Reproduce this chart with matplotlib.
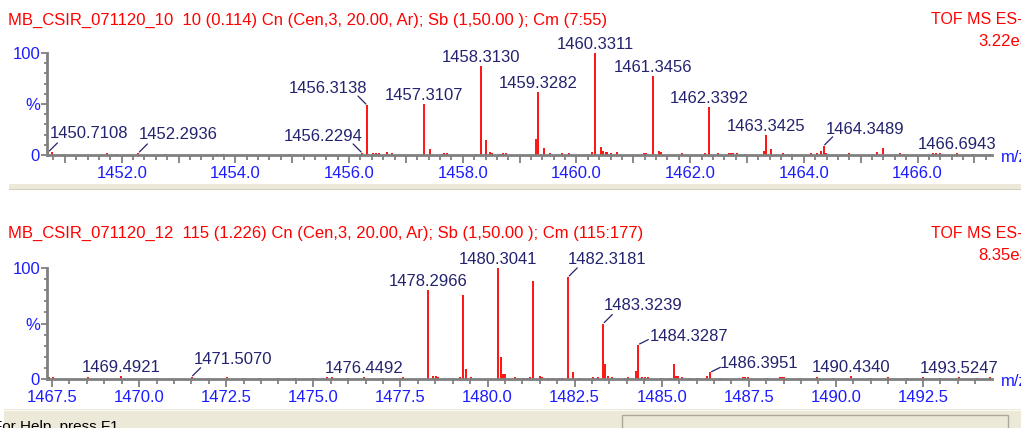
import matplotlib
matplotlib.use("Agg")
import matplotlib.pyplot as plt
from matplotlib.patches import Rectangle
from matplotlib.lines import Line2D
from matplotlib.ticker import MultipleLocator, FixedLocator, FuncFormatter

plt.rcParams['font.family'] = ['Liberation Sans', 'DejaVu Sans']

W, H = 1021, 428

# ---- spectrum 1 : MB_CSIR_071120_10 ----
top_title = "MB_CSIR_071120_10  10 (0.114) Cn (Cen,3, 20.00, Ar); Sb (1,50.00 ); Cm (7:55)"
top_scale = "3.22e3"
top_mz = [1450.7108, 1450.77, 1450.99, 1451.75, 1451.92, 1452.2936, 1452.76, 1453.67,
          1453.78, 1454.96, 1456.2294, 1456.3138, 1456.42, 1456.47, 1456.53, 1456.67,
          1456.75, 1457.3107, 1457.42, 1457.63, 1457.67, 1457.72, 1458.23, 1458.3130,
          1458.40, 1458.48, 1458.51, 1458.65, 1458.71, 1458.76, 1459.28, 1459.3282,
          1459.43, 1459.53, 1459.74, 1459.87, 1460.27, 1460.3311, 1460.43, 1460.47,
          1460.52, 1460.54, 1460.60, 1460.72, 1461.19, 1461.23, 1461.3456, 1461.46,
          1461.49, 1461.85, 1462.27, 1462.3392, 1462.49, 1462.68, 1462.71, 1462.76,
          1462.83, 1462.97, 1463.30, 1463.3425, 1463.42, 1463.64, 1463.73, 1463.80,
          1464.13, 1464.23, 1464.31, 1464.3489, 1464.39, 1464.80, 1465.29, 1465.40,
          1465.70, 1465.77, 1466.28, 1466.32, 1466.40, 1466.6943, 1466.98, 1467.27]
top_int = [3, 3, 1, 2, 1, 2, 1, 1,
           1, 1, 2, 49, 2, 1.5, 1.5, 3,
           2, 50, 6, 1, 2, 1.5, 1, 87,
           15, 3, 2, 1, 1.5, 1.5, 16, 61.5,
           6.5, 2, 2, 2, 2.5, 100, 8, 4,
           3, 3, 2, 3, 1.5, 2, 77.5, 4,
           3, 2, 2, 47, 2, 2, 2, 2,
           2, 1, 4, 20, 6, 1.5, 1, 1,
           1.5, 1.5, 4, 9, 2, 1.5, 3, 6.5,
           2, 1, 2, 2, 1.5, 2, 1, 1]
top_labels = [1450.7108, 1452.2936, 1456.2294, 1456.3138, 1457.3107, 1458.3130,
              1459.3282, 1460.3311, 1461.3456, 1462.3392, 1463.3425, 1464.3489,
              1466.6943]

# ---- spectrum 2 : MB_CSIR_071120_12 ----
bot_title = "MB_CSIR_071120_12  115 (1.226) Cn (Cen,3, 20.00, Ar); Sb (1,50.00 ); Cm (115:177)"
bot_scale = "8.35e3"
bot_mz = [1467.40, 1467.53, 1468.54, 1469.4921, 1470.50, 1471.5070, 1471.99, 1472.51,
          1472.99, 1473.47, 1473.99, 1474.47, 1475.00, 1475.38, 1475.53, 1476.00,
          1476.4492, 1477.01, 1477.49, 1477.57, 1478.2966, 1478.44, 1478.52, 1478.59,
          1479.02, 1479.21, 1479.30, 1479.38, 1479.52, 1480.3041, 1480.38, 1480.45,
          1480.50, 1480.79, 1480.88, 1481.03, 1481.12, 1481.22, 1481.30, 1481.51,
          1481.56, 1481.75, 1481.84, 1482.05, 1482.13, 1482.3181, 1482.46, 1482.64,
          1483.04, 1483.18, 1483.3239, 1483.37, 1483.47, 1483.56, 1483.95, 1484.04,
          1484.25, 1484.3287, 1484.42, 1484.52, 1484.62, 1484.99, 1485.24, 1485.35,
          1485.41, 1485.48, 1485.57, 1485.81, 1486.00, 1486.31, 1486.3951, 1486.67,
          1487.34, 1487.40, 1487.48, 1488.01, 1488.39, 1488.45, 1488.51, 1488.97,
          1489.45, 1489.93, 1490.4340, 1491.00, 1491.50, 1492.03, 1492.51, 1492.99,
          1493.5247, 1494.04, 1494.42]
bot_int = [2, 2, 1.5, 3, 1, 2, 1, 1.5,
           1, 1, 1, 1, 1, 1.5, 1.5, 1,
           2, 1, 1, 1.5, 80, 2.5, 3, 2,
           1, 1.5, 76, 9, 2, 100, 20, 4.5,
           4.5, 1.5, 1, 1, 1, 1.5, 88, 3,
           2, 1, 1, 1, 1, 92, 6, 1,
           1.5, 1.5, 50, 13.5, 3, 2, 1, 1.5,
           7, 31, 2, 2, 1.5, 1, 1, 13.5,
           3, 3, 2, 1, 1, 3, 6, 1,
           2, 2, 2, 1, 2, 2, 2, 1,
           2, 1, 2.5, 1, 1.5, 1, 2, 1,
           1.5, 1, 2]
bot_labels = [1469.4921, 1471.5070, 1476.4492, 1478.2966, 1480.3041, 1482.3181,
              1483.3239, 1484.3287, 1486.3951, 1490.4340, 1493.5247]

# label placement (pixels): text offset (dx, dy) from peak top, optional leader end
R, L, S = (9, 9), (-9, 9), (10, 5)
top_place = {1450.7108: (41, 14, R), 1452.2936: (40, 14, R), 1456.2294: (-39, 12, L),
             1456.3138: (-39, 12, L), 1464.3489: (41, 12, R)}
bot_place = {1471.5070: (41, 13, R), 1482.3181: (39, 13, R), 1483.3239: (40, 13, R),
             1484.3287: (51, 4, S), 1486.3951: (49, 4, S)}

RED = '#ff0000'
NAVY = '#23236e'
BLUE = '#1c1cff'
GREY = '#808080'
BEIGE = '#ece9d8'


def px(x, y):
    return x / W, 1 - y / H


fig = plt.figure(figsize=(W / 100, H / 100), dpi=100)
fig.patch.set_facecolor('white')


def panel(rect, mz, inten, labels, place, xlim, major, minor, fmt):
    x0, ytop, x1, ybot = rect
    ax = fig.add_axes([x0 / W, 1 - ybot / H, (x1 - x0) / W, (ybot - ytop) / H])
    ax.set_facecolor('none')
    ax.vlines(mz, 0, inten, color=RED, lw=1.3)
    ax.set_xlim(*xlim)
    ax.set_ylim(0, 100)
    for s in ('top', 'right'):
        ax.spines[s].set_visible(False)
    for s in ('left', 'bottom'):
        ax.spines[s].set_color(GREY)
        ax.spines[s].set_linewidth(2)
    ax.xaxis.set_major_locator(MultipleLocator(major))
    ax.xaxis.set_minor_locator(MultipleLocator(minor))
    ax.xaxis.set_major_formatter(FuncFormatter(fmt))
    ax.yaxis.set_major_locator(FixedLocator([0, 50, 100]))
    ax.yaxis.set_minor_locator(MultipleLocator(10))
    ax.set_yticklabels(['0', '%', '100'])
    ax.tick_params(axis='x', which='major', length=6, width=1.3, color=GREY,
                   labelsize=12, labelcolor=BLUE, pad=2)
    ax.tick_params(axis='x', which='minor', length=3.5, width=1.3, color=GREY)
    ax.tick_params(axis='y', which='major', length=4, width=1.3, color=GREY,
                   labelsize=12, labelcolor=BLUE, pad=1)
    ax.tick_params(axis='y', which='minor', length=2.5, width=1.3, color=GREY)
    for lab in labels:
        i = min(range(len(mz)), key=lambda k: abs(mz[k] - lab))
        h = inten[i]
        dx, dy, lead = place.get(lab, (0, 4, None))
        ax.annotate(f"{lab:.4f}", xy=(lab, h), xytext=(dx, dy), textcoords='offset pixels',
                    ha='center', va='baseline', fontsize=12, color=NAVY,
                    annotation_clip=False)
        if lead:
            ax.annotate('', xy=(lab, h), xytext=lead, textcoords='offset pixels',
                        annotation_clip=False,
                        arrowprops=dict(arrowstyle='-', color=NAVY, lw=0.9,
                                        shrinkA=0, shrinkB=1))
    return ax


def top_fmt(v, p):
    return f"{v:.1f}" if round(v) % 2 == 0 else ""


panel((47, 53, 992, 155), top_mz, top_int, top_labels, top_place,
      (1450.686, 1467.31), 1.0, 0.2, top_fmt)
panel((47, 268, 992, 379), bot_mz, bot_int, bot_labels, bot_place,
      (1467.356, 1494.48), 2.5, 0.5, lambda v, p: f"{v:.1f}")

# headers (the window cuts them at the right edge, as in the screenshot)
for y, title, scale, ys in ((20, top_title, top_scale, 41), (233, bot_title, bot_scale, 255)):
    fig.text(*px(8, y), title, color=RED, fontsize=12, ha='left', va='center')
    fig.text(*px(931, y), "TOF MS ES-", color=RED, fontsize=11.5, ha='left', va='center')
    fig.text(*px(978, ys), scale, color=RED, fontsize=12, ha='left', va='center')

fig.text(*px(1001, 158), "m/z", color=BLUE, fontsize=12, ha='left', va='center')
fig.text(*px(1001, 382), "m/z", color=BLUE, fontsize=12, ha='left', va='center')

# window chrome: splitter and status bar
fig.add_artist(Rectangle(px(9, 189), (W - 9) / W, 5 / H, transform=fig.transFigure,
                         facecolor=BEIGE, edgecolor='none'))
fig.add_artist(Line2D([9 / W, 1], [1 - 189 / H] * 2, transform=fig.transFigure,
                      color='#d6d2c2', lw=0.8))
fig.add_artist(Rectangle(px(4, H), (W - 4) / W, (H - 409) / H, transform=fig.transFigure,
                         facecolor=BEIGE, edgecolor='none'))
fig.add_artist(Line2D([4 / W, 1], [1 - 409.5 / H] * 2, transform=fig.transFigure,
                      color='#fbfaf5', lw=0.8))
fig.add_artist(Rectangle(px(622, H + 2), 386 / W, (H + 2 - 415) / H, transform=fig.transFigure,
                         facecolor=BEIGE, edgecolor='#aca899', lw=1))
fig.text(*px(-7, 431), "For Help, press F1", color='black', fontsize=11, ha='left',
         va='baseline')

fig.savefig("out.png", dpi=100)
